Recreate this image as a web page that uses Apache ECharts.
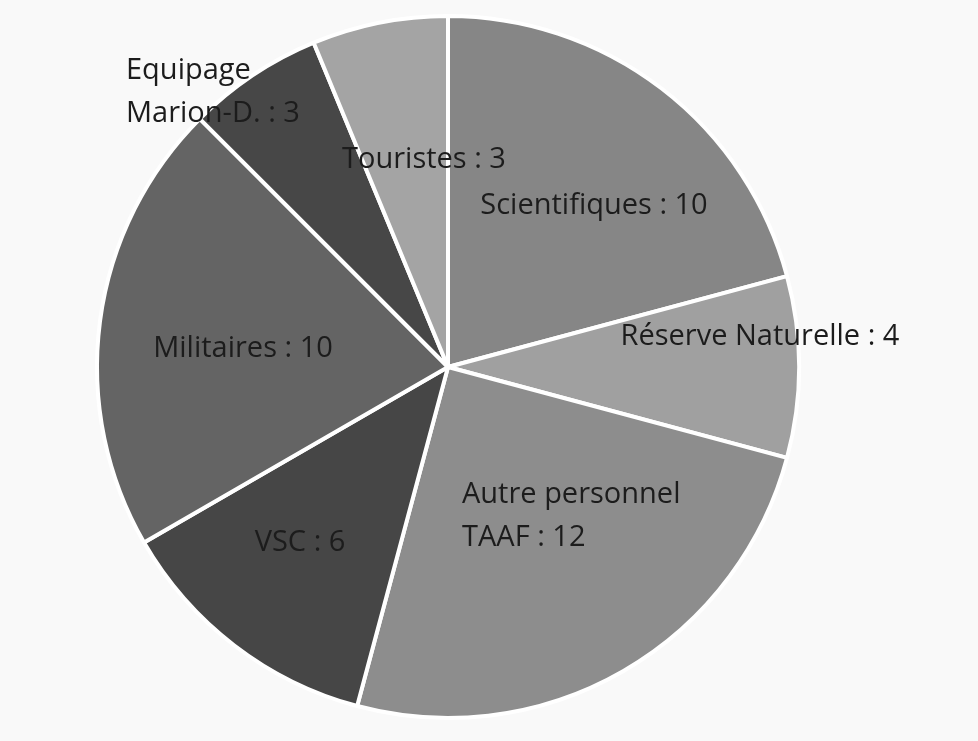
<!DOCTYPE html>
<html>
<head>
<meta charset="utf-8">
<script src="https://cdn.jsdelivr.net/npm/echarts@6/dist/echarts.min.js"></script>
<style>
html,body{margin:0;padding:0;background:#f9f9f9;}
#chart{width:978px;height:741px;}
</style>
</head>
<body>
<div id="chart"></div>
<script>
const categories = ["Scientifiques", "Réserve Naturelle", "Autre personnel\nTAAF", "VSC", "Militaires", "Equipage\nMarion-D.", "Touristes"];
const values = [10, 4, 12, 6, 10, 3, 3];
const colors = ["#868686", "#a0a0a0", "#8d8d8d", "#464646", "#646464", "#474747", "#a4a4a4"];
// label anchor placement (styling only)
const labelPos = [
  {x: 594, y: 206, align: "center"},
  {x: 760, y: 337, align: "center"},
  {x: 462, y: 516, align: "left"},
  {x: 300, y: 543, align: "center"},
  {x: 243, y: 349, align: "center"},
  {x: 126, y: 92, align: "left"},
  {x: 424, y: 160, align: "center"}
];

const chart = echarts.init(document.getElementById('chart'));
chart.setOption({
  backgroundColor: '#f9f9f9',
  animation: false,
  series: [{
    type: 'pie',
    center: [448, 367],
    radius: 351,
    startAngle: 90,
    clockwise: true,
    data: categories.map((c, i) => ({name: c, value: values[i], itemStyle: {color: colors[i]}})),
    itemStyle: {borderColor: '#ffffff', borderWidth: 4},
    label: {
      show: true,
      position: 'inside',
      formatter: p => p.name + ' : ' + p.value,
      color: '#1c1c1c',
      fontFamily: 'Open Sans',
      fontSize: 29,
      lineHeight: 43
    },
    labelLine: {show: false},
    labelLayout: function (params) {
      const p = labelPos[params.dataIndex];
      return {x: p.x, y: p.y, align: p.align, verticalAlign: 'middle'};
    }
  }]
});
</script>
</body>
</html>
